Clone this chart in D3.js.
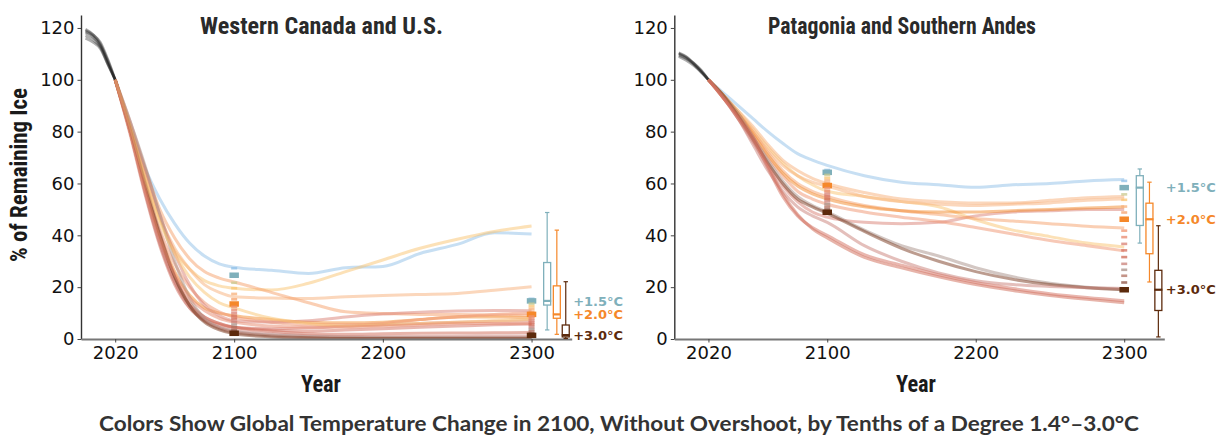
<!DOCTYPE html>
<html>
<head>
<meta charset="utf-8">
<script src="https://cdn.jsdelivr.net/npm/d3@7"></script>
<style>
body { margin: 0; background: #fff; }
svg { display: block; }
</style>
</head>
<body>
<svg width="1221" height="437"></svg>
<script>
var WIDTH = 1221;
var HEIGHT = 437;

// temperature levels (tenths of a degree) and their colours
var temps = [1.4, 1.5, 1.6, 1.7, 1.8, 1.9, 2.0, 2.1, 2.2, 2.3, 2.4, 2.5, 2.6, 2.7, 2.8, 2.9, 3.0];
var tempColors = ['#8fc0e8', '#7fb0bb', '#c9c98f', '#f9c470', '#f7b07a', '#f5a06a', '#f28a2c', '#ef9470',
    '#e8876c', '#d98073', '#d47060', '#cf6a55', '#c98078', '#a89088', '#b07060', '#8c5040', '#7a3a20'];

var histYears = [2000, 2005, 2010, 2015, 2020];
var years = [2020, 2030, 2040, 2050, 2060, 2070, 2080, 2090, 2100, 2125, 2150, 2175, 2200, 2225, 2250, 2275, 2300];

var xTicks = [2020, 2100, 2200, 2300];
var yTicks = [0, 20, 40, 60, 80, 100, 120];

// Western Canada and U.S.
var westHist = [
    [119.5, 117.5, 114, 107, 100],
    [118.5, 117, 113.5, 107.5, 100],
    [118, 116.5, 113, 106.5, 100],
    [117, 115.5, 112.5, 106, 100],
    [116, 114.5, 112, 106, 100],
    [119, 117.5, 114.5, 108, 100]
];
var westRunTemps = [1.4, 1.7, 1.8, 1.9, 2.0, 2.1, 2.3, 2.3, 2.4, 2.5, 2.6, 2.7, 2.8, 3.0, 1.7, 2.2];
var westRuns = [
    [100, 82, 66, 54, 44.5, 37, 32, 29, 27.7, 26.5, 25.3, 27.5, 28, 33, 36.5, 41, 40.5],
    [100, 82, 63, 46, 34, 27, 22.5, 20.5, 19.6, 18.9, 21.5, 26, 30.5, 35, 38.5, 41.5, 43.6],
    [100, 82, 64, 47, 35, 27, 21, 18, 16.3, 15.8, 15.6, 16.3, 16.8, 17.2, 17.6, 18.8, 20.2],
    [100, 83, 66, 50, 39, 31, 26, 23.5, 22, 18, 14, 10.5, 9.8, 9.5, 9.5, 9.3, 9.2],
    [100, 80, 58, 40, 26, 17, 12, 10, 9, 7.5, 6.5, 6.3, 6.5, 7.5, 8.5, 8.5, 8.2],
    [100, 81, 60, 42, 29, 20, 14, 10.5, 8.5, 6.5, 5.5, 5.5, 6, 7.5, 8.5, 9.5, 10],
    [100, 84, 66, 48, 33, 21, 13, 9, 7, 6.5, 7, 8.5, 9.6, 10.3, 10.8, 11, 10.9],
    [100, 80, 57, 37, 22, 13, 8.5, 6, 4.5, 4, 4.2, 5, 5.5, 6, 6.5, 6.8, 7],
    [100, 79, 56, 36, 21, 12, 7.5, 5.5, 4.5, 3.5, 3, 3.5, 4, 4.5, 5, 5.5, 5.8],
    [100, 81, 59, 39, 24, 14, 8.5, 6, 4.5, 3, 2, 1.8, 2, 2.2, 2.3, 2.4, 2.5],
    [100, 80, 57, 37, 22, 12, 7, 4.5, 3.3, 2, 1.3, 1, 1, 1, 1.1, 1.2, 1.2],
    [100, 84, 67, 48, 30, 16, 8, 4.5, 3, 1.5, 1, 0.7, 0.6, 0.6, 0.6, 0.6, 0.6],
    [100, 82, 61, 41, 24, 13, 7, 4, 2.5, 1.2, 0.6, 0.4, 0.3, 0.3, 0.3, 0.3, 0.3],
    [100, 81, 60, 40, 24, 13, 6.5, 3.5, 2, 0.8, 0.4, 0.2, 0.2, 0.2, 0.2, 0.2, 0.2],
    [100, 82, 62, 45, 33, 24, 18, 14, 12, 8, 6, 5, 5.5, 6, 6.5, 7, 7.5],
    [100, 80, 58, 39, 25, 16, 11, 8, 6.5, 5, 4.5, 4.5, 5, 5.5, 6, 6, 6]
];
var westMed2100 = [27.3, 24.6, 21.7, 19.6, 17.4, 15.3, 13.5, 12.4, 11.2, 10.1, 9.0, 7.9, 6.7, 5.6, 4.5, 3.3, 2.2];
var westMed2300 = [15.5, 14.7, 13.6, 12.6, 11.6, 10.5, 9.5, 8.7, 7.9, 7.1, 6.3, 5.5, 4.6, 3.8, 3.0, 2.2, 1.4];
// min, q1, median, q3, max for +1.5, +2.0, +3.0
var westBoxes = [
    [3.5, 13.1, 14.7, 29.5, 48.8],
    [1.8, 8, 9.5, 20.5, 42],
    [0.2, 0.8, 1.5, 5.4, 22.1]
];

// Patagonia and Southern Andes
var southHist = [
    [110.5, 109, 106.5, 103.5, 100],
    [110, 108.5, 106.5, 103.8, 100],
    [109.5, 108.2, 106, 103, 100],
    [109, 107.5, 105.5, 103, 100],
    [110.2, 108.8, 106.2, 103.3, 100]
];
var southRunTemps = [1.4, 1.7, 1.8, 1.8, 2.3, 1.9, 2.1, 2.0, 2.7, 3.0, 2.6, 2.5, 2.4];
var southRuns = [
    [100, 95, 90, 85, 80, 75.5, 71.5, 69, 67, 63, 60.5, 59.5, 58.5, 59.5, 60, 61, 61.5],
    [100, 94, 88, 81, 74, 68, 63, 59.5, 57, 55, 53, 51, 46, 42, 39.5, 37, 35.5],
    [100, 94, 88, 82, 75, 69, 65, 62, 60, 56.5, 54, 53, 52.5, 52.5, 53.5, 54.5, 55],
    [100, 94, 87, 80, 73, 67, 63, 60.5, 59, 55, 53, 52, 51.5, 52, 52.5, 53.5, 54],
    [100, 93, 85, 76, 67, 59, 53, 49, 47, 45, 44.5, 45, 47.5, 49, 49.5, 50, 50],
    [100, 94, 87, 80, 72, 65, 60, 57, 55, 51.5, 49.5, 48, 46.5, 45.5, 44.5, 43.5, 42.8],
    [100, 93, 86, 78, 70, 63, 57, 54, 52, 49, 47, 45.3, 43, 40.5, 38, 36, 34],
    [100, 94, 87, 79, 71, 64, 59, 56, 54, 51, 49.5, 49, 49, 49.5, 50, 50.5, 51],
    [100, 94, 87, 78, 69, 61, 55, 51.5, 49, 42, 36, 32, 27.5, 24, 21.5, 20, 19.2],
    [100, 94, 86, 77, 68, 60, 54, 51, 48.5, 41.5, 35, 30, 26, 23, 21, 19.8, 19],
    [100, 93, 85, 75, 65, 57, 51, 47.5, 45, 36, 30, 25.5, 22.5, 21, 20.3, 19.8, 19.5],
    [100, 93, 86, 78, 67, 56, 48, 42.5, 39, 31.5, 27.5, 24, 21, 18.7, 16.8, 15.3, 14],
    [100, 93, 85, 77, 66, 55, 47.5, 43, 40, 32.5, 28.5, 24.8, 21.8, 19.5, 17.5, 16, 14.8]
];
var southMed2100 = [65.2, 64.3, 63.3, 62.2, 61.2, 60.2, 59.2, 58.2, 57.1, 56.1, 55.1, 54.1, 53.1, 52.0, 51.0, 50.0, 48.9];
var southMed2300 = [61.0, 58.4, 55.8, 53.7, 51.1, 48.8, 46.2, 41.8, 39.3, 36.7, 34.2, 31.6, 29.0, 26.7, 24.4, 21.8, 19.0];
var southBoxes = [
    [37, 43.8, 58.4, 63, 65.6],
    [22, 32.9, 46.2, 52.4, 60.5],
    [0.8, 11, 19, 26.5, 43.7]
];

var boxTemps = [1.5, 2.0, 3.0];
var boxYears = [2310.5, 2317, 2323];
var boxLabels = ['+1.5°C', '+2.0°C', '+3.0°C'];
var boxColors = ['#7fb0bb', '#f5882a', '#5c2a0c'];

var condensed = '"Roboto Condensed", "Liberation Sans Narrow", Roboto, sans-serif';

var svg = d3.select('svg')
    .attr('width', WIDTH)
    .attr('height', HEIGHT);

var colorOf = function(t){
    return tempColors[temps.indexOf(t)];
};

var drawPanel = function(p){
    var xScale = d3.scaleLinear().domain([1997, 2327]).range([p.x0, p.x1]);
    var yScale = d3.scaleLinear().domain([0, 125]).range([339, 15]);
    var g = svg.append('g');

    var line = d3.line()
        .x(function(d){ return xScale(d[0]); })
        .y(function(d){ return yScale(d[1]); })
        .curve(d3.curveMonotoneX);

    // historical ensemble
    p.hist.forEach(function(run){
        g.append('path')
            .attr('d', line(histYears.map(function(yr, i){ return [yr, run[i]]; })))
            .attr('fill', 'none')
            .attr('stroke', '#1a1a1a')
            .attr('stroke-opacity', 0.35)
            .attr('stroke-width', 2.6);
    });

    // projections
    p.runs.forEach(function(run, k){
        g.append('path')
            .attr('d', line(years.map(function(yr, i){ return [yr, run[i]]; })))
            .attr('fill', 'none')
            .attr('stroke', colorOf(p.runTemps[k]))
            .attr('stroke-opacity', 0.5)
            .attr('stroke-width', 3);
    });

    // median markers at 2100 and 2300
    [[2100, p.med2100], [2300, p.med2300]].forEach(function(col){
        temps.forEach(function(t, i){
            var big = boxTemps.indexOf(t) >= 0;
            var w = big ? 9.5 : 6;
            var h = big ? 5.5 : 2.6;
            g.append('rect')
                .attr('x', xScale(col[0]) - w / 2)
                .attr('y', yScale(col[1][i]) - h / 2)
                .attr('width', w)
                .attr('height', h)
                .attr('fill', big ? boxColors[boxTemps.indexOf(t)] : tempColors[i])
                .attr('fill-opacity', big ? 1 : 0.75);
        });
    });

    // axes
    var leftAxis = d3.axisLeft(yScale).tickValues(yTicks).tickSize(3.5).tickSizeOuter(0).tickPadding(3);
    var ay = g.append('g')
        .attr('transform', 'translate(' + p.x0 + ',0)')
        .call(leftAxis);
    ay.select('.domain').attr('stroke', '#333').attr('stroke-width', 1.4);

    var bottomAxis = d3.axisBottom(xScale).tickValues(xTicks).tickFormat(d3.format('d'))
        .tickSize(3.5).tickSizeOuter(0).tickPadding(4);
    var ax = g.append('g')
        .attr('transform', 'translate(0,339)')
        .call(bottomAxis);
    ax.select('.domain').attr('stroke', '#777').attr('stroke-width', 2);

    g.selectAll('.tick line').attr('stroke', '#444');
    g.selectAll('.tick text')
        .attr('fill', '#111')
        .style('font-family', '"DejaVu Sans", sans-serif')
        .style('font-size', '18px');

    // box plots
    p.boxes.forEach(function(b, i){
        var cx = xScale(boxYears[i]);
        var c = boxColors[i];
        var bw = 7;
        g.append('line')
            .attr('x1', cx).attr('x2', cx)
            .attr('y1', yScale(b[0])).attr('y2', yScale(b[4]))
            .attr('stroke', c).attr('stroke-width', 1.2);
        [b[0], b[4]].forEach(function(v){
            g.append('line')
                .attr('x1', cx - 2.2).attr('x2', cx + 2.2)
                .attr('y1', yScale(v)).attr('y2', yScale(v))
                .attr('stroke', c).attr('stroke-width', 1.2);
        });
        g.append('rect')
            .attr('x', cx - bw / 2)
            .attr('y', yScale(b[3]))
            .attr('width', bw)
            .attr('height', yScale(b[1]) - yScale(b[3]))
            .attr('fill', '#fff')
            .attr('stroke', c)
            .attr('stroke-width', 1.3);
        g.append('line')
            .attr('x1', cx - bw / 2 - 0.5).attr('x2', cx + bw / 2 + 0.5)
            .attr('y1', yScale(b[2])).attr('y2', yScale(b[2]))
            .attr('stroke', c).attr('stroke-width', 2.2);
        g.append('text')
            .attr('x', xScale(2328))
            .attr('y', yScale(b[2]))
            .attr('dy', '0.36em')
            .attr('fill', c)
            .style('font-family', '"DejaVu Sans", sans-serif')
            .style('font-weight', 'bold')
            .style('font-size', '13px')
            .text(boxLabels[i]);
    });

    // titles
    g.append('text')
        .attr('x', p.titleX)
        .attr('y', 33.5)
        .attr('text-anchor', 'middle')
        .attr('textLength', p.titleW)
        .attr('lengthAdjust', 'spacingAndGlyphs')
        .attr('fill', '#2a2a2a')
        .style('font-family', condensed)
        .style('font-weight', 'bold')
        .style('font-size', '24px')
        .text(p.title);

    g.append('text')
        .attr('x', p.yearX)
        .attr('y', 391.5)
        .attr('text-anchor', 'middle')
        .attr('textLength', 40)
        .attr('lengthAdjust', 'spacingAndGlyphs')
        .attr('fill', '#1a1a1a')
        .style('font-family', condensed)
        .style('font-weight', 'bold')
        .style('font-size', '24px')
        .text('Year');
};

drawPanel({
    x0: 81, x1: 571.7,
    hist: westHist, runs: westRuns, runTemps: westRunTemps,
    med2100: westMed2100, med2300: westMed2300, boxes: westBoxes,
    title: 'Western Canada and U.S.', titleX: 321.5, titleW: 243, yearX: 321
});

drawPanel({
    x0: 674.3, x1: 1164.3,
    hist: southHist, runs: southRuns, runTemps: southRunTemps,
    med2100: southMed2100, med2300: southMed2300, boxes: southBoxes,
    title: 'Patagonia and Southern Andes', titleX: 902, titleW: 268, yearX: 916
});

// y label
svg.append('text')
    .attr('transform', 'translate(27,175) rotate(-90)')
    .attr('text-anchor', 'middle')
    .attr('textLength', 174)
    .attr('lengthAdjust', 'spacingAndGlyphs')
    .attr('fill', '#1a1a1a')
    .style('font-family', condensed)
    .style('font-weight', 'bold')
    .style('font-size', '24px')
    .text('% of Remaining Ice');

// caption
svg.append('text')
    .attr('x', 619)
    .attr('y', 431)
    .attr('text-anchor', 'middle')
    .attr('textLength', 1040)
    .attr('lengthAdjust', 'spacingAndGlyphs')
    .attr('fill', '#333')
    .style('font-family', 'Lato, "Open Sans", sans-serif')
    .style('font-weight', 'bold')
    .style('font-size', '21px')
    .text('Colors Show Global Temperature Change in 2100, Without Overshoot, by Tenths of a Degree 1.4°–3.0°C');
</script>
</body>
</html>
